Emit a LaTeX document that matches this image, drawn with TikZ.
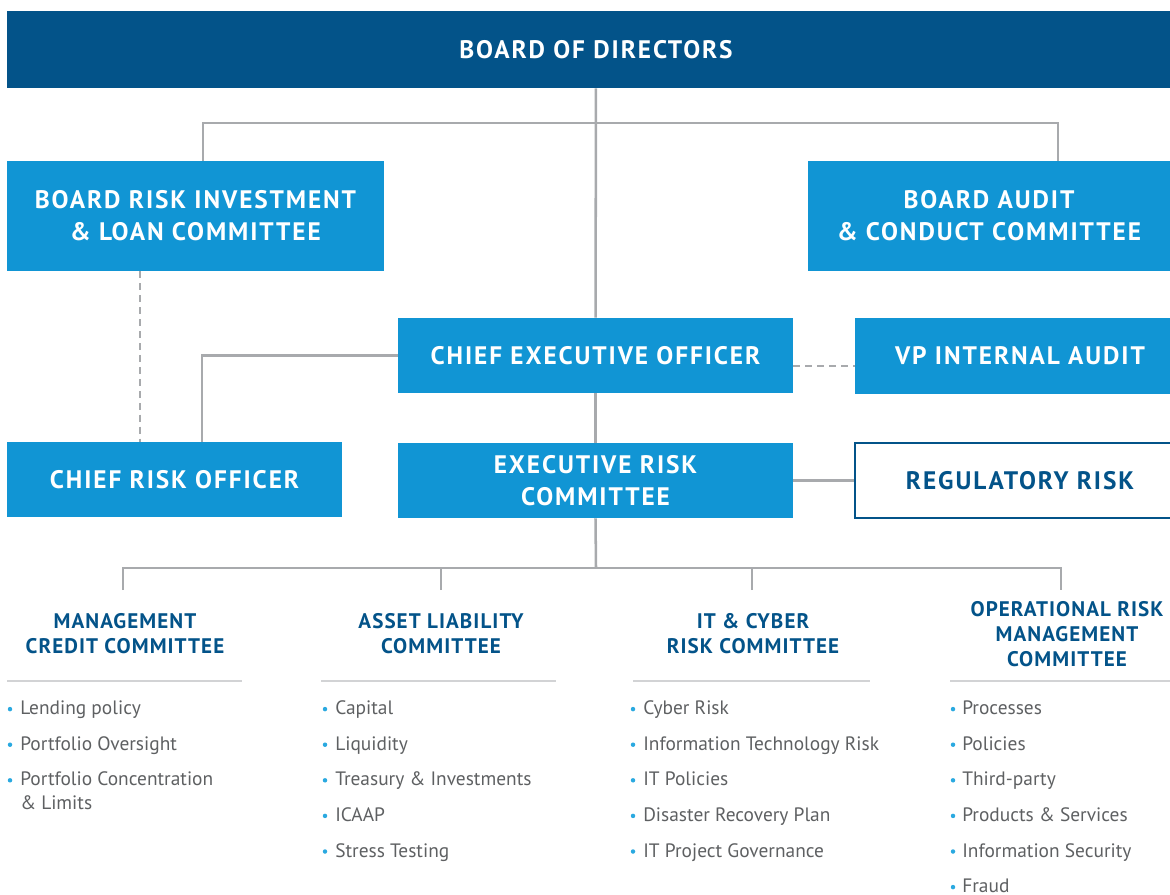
\documentclass[tikz,border=0pt]{standalone}
\usepackage{fontspec}
\setmainfont{PT Sans}
\newfontfamily\headfont[LetterSpace=7.5]{PT Sans}
\newfontfamily\subheadfont[LetterSpace=5]{PT Sans}
\usetikzlibrary{positioning}

\definecolor{navy}{HTML}{035389}
\definecolor{sky}{HTML}{1195D4}
\definecolor{wire}{HTML}{A8AAAD}
\definecolor{rulegray}{HTML}{D2D3D5}
\definecolor{dotblue}{HTML}{2AA9E0}
\definecolor{itemgray}{HTML}{5E6062}

\begin{document}
\begin{tikzpicture}[x=0.025cm, y=-0.025cm,
    box/.style={fill=sky, text=white, align=center, inner sep=0pt,
                font=\headfont\bfseries\fontsize{18}{22.8}\selectfont},
    head/.style={text=navy, align=center, inner sep=0pt,
                 font=\subheadfont\bfseries\fontsize{15}{17.8}\selectfont},
    item/.style={text=itemgray, anchor=base west, inner sep=0pt,
                 font=\fontsize{13.8}{17}\selectfont},
    link/.style={draw=wire, line width=1.8pt},
    dashlink/.style={link, dash pattern=on 5pt off 3.5pt},
    sep/.style={draw=rulegray, line width=2pt}]
  \useasboundingbox (0,0) rectangle (1170,894);
  \clip (0,0) rectangle (1170,894);

  % boxes
  \node[box, fill=navy, minimum width=29.45cm, minimum height=1.925cm]
    (board) at (596,49.5) {BOARD OF DIRECTORS};
  \node[box, minimum width=9.425cm, minimum height=2.75cm]
    (brilc) at (195.5,216) {BOARD RISK INVESTMENT\\\& LOAN COMMITTEE};
  \node[box, minimum width=9.05cm, minimum height=2.75cm]
    (bac) at (989,216) {BOARD AUDIT\\\& CONDUCT COMMITTEE};
  \node[box, minimum width=9.875cm, minimum height=1.875cm]
    (ceo) at (595.5,355.5) {CHIEF EXECUTIVE OFFICER};
  \node[box, minimum width=8.25cm, minimum height=1.9cm]
    (vpia) at (1020,356) {VP INTERNAL AUDIT};
  \node[box, minimum width=8.375cm, minimum height=1.875cm]
    (cro) at (174.5,479.5) {CHIEF RISK OFFICER};
  \node[box, minimum width=9.875cm, minimum height=1.875cm]
    (erc) at (595.5,480.5) {EXECUTIVE RISK\\COMMITTEE};
  \node[box, fill=white, draw=navy, line width=1.4pt, text=navy,
        minimum width=8.25cm, minimum height=1.875cm]
    (rr) at (1020,480.5) {REGULATORY RISK};

  % reporting lines
  \coordinate (barL) at (203,123);
  \coordinate (barR) at (1058,123);
  \draw[link] (board) -- (ceo);
  \draw[link] (brilc.north -| barL) |- (barR) -- (bac.north -| barR);
  \draw[link] (ceo.west) -| ([xshift=0.69cm]cro.north);
  \coordinate (tap) at ([xshift=-1.39cm]brilc.south);
  \draw[dashlink] (tap) -- (tap |- cro.north);
  \coordinate (ceoR) at ([yshift=-0.26cm]ceo.east);
  \draw[dashlink] (ceoR) -- (ceoR -| vpia.west);
  \draw[link] (ceo) -- (erc);
  \draw[link] (erc) -- (rr);

  % committees under the ERC
  \coordinate (hub) at (596,568);
  \coordinate (drop-mcc) at (123,590);
  \coordinate (drop-alc) at (441,590);
  \coordinate (drop-itc) at (752,590);
  \coordinate (drop-ormc) at (1061,590);
  \draw[link] (erc.south) -- (hub);
  \draw[link] (drop-mcc) |- (hub) -| (drop-ormc);
  \draw[link] (drop-alc) -- (drop-alc |- hub);
  \draw[link] (drop-itc) -- (drop-itc |- hub);

  \node[head] (mcc) at (125,633.5) {MANAGEMENT\\CREDIT COMMITTEE};
  \node[head] (alc) at (441,633.5) {ASSET LIABILITY\\COMMITTEE};
  \node[head] (itc) at (753,633.5) {IT \& CYBER\\RISK COMMITTEE};
  \node[head] (ormc) at (1067,634) {OPERATIONAL RISK\\MANAGEMENT\\COMMITTEE};

  \draw[sep] (7,681) -- (242,681);
  \draw[sep] (321,681) -- (556,681);
  \draw[sep] (633,681) -- (870,681);
  \draw[sep] (950,681) -- (1170,681);

  % bullet lists
  \foreach \txt [count=\i] in {Lending policy, Portfolio Oversight,
                               Portfolio Concentration} {
    \fill[dotblue] (10,673.5+35.6*\i) circle (1.6pt);
    \node[item] (mcc-\i) at (20,679+35.6*\i) {\txt};
  }
  \node[item] (mcc-lim) at (20,809.6) {\& Limits};

  \foreach \txt [count=\i] in {Capital, Liquidity, Treasury \& Investments,
                               ICAAP, Stress Testing} {
    \fill[dotblue] (325,673.5+35.6*\i) circle (1.6pt);
    \node[item] (alc-\i) at (335,679+35.6*\i) {\txt};
  }

  \foreach \txt [count=\i] in {Cyber Risk, Information Technology Risk,
                               IT Policies, Disaster Recovery Plan,
                               IT Project Governance} {
    \fill[dotblue] (633,673.5+35.6*\i) circle (1.6pt);
    \node[item] (itc-\i) at (643,679+35.6*\i) {\txt};
  }

  \foreach \txt [count=\i] in {Processes, Policies, Third-party,
                               Products \& Services, Information Security,
                               Fraud} {
    \fill[dotblue] (953,673.5+35.6*\i) circle (1.6pt);
    \node[item] (ormc-\i) at (962,679+35.6*\i) {\txt};
  }
\end{tikzpicture}
\end{document}
